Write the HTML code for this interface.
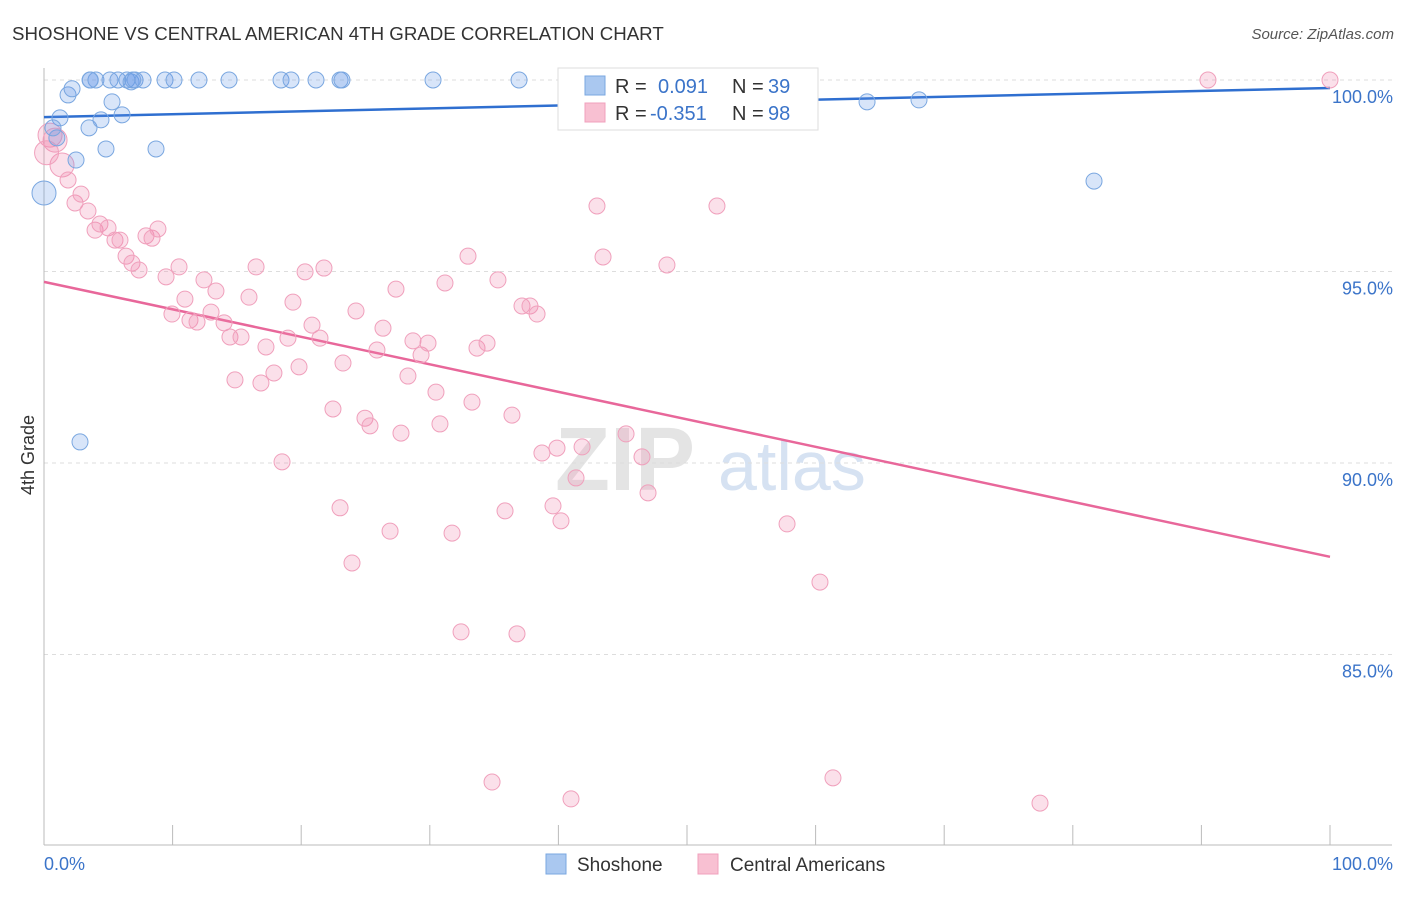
<!DOCTYPE html>
<html><head><meta charset="utf-8">
<style>
body{margin:0;background:#fff;font-family:"Liberation Sans",sans-serif;}
svg text{font-family:"Liberation Sans",sans-serif;}
</style></head>
<body>
<svg id="chart" width="1406" height="892" xmlns="http://www.w3.org/2000/svg">
<text x="12" y="40" font-size="18.7" fill="#333">SHOSHONE VS CENTRAL AMERICAN 4TH GRADE CORRELATION CHART</text>
<text x="1394" y="39" font-size="15" fill="#555" text-anchor="end" font-style="italic">Source: ZipAtlas.com</text>
<g>
<text x="555" y="490" font-size="90" fill="#e4e4e4" font-family="Liberation Serif" font-weight="bold">ZIP</text>
<text x="718" y="490" font-size="70" fill="#d6e2f2">atlas</text>
</g>
<g id="grid"></g>
<g id="axes"></g>
<g id="trends"></g>
<g id="points"></g>
<g>
<rect x="558" y="68" width="260" height="62" fill="#fff" stroke="#ddd"/>
<rect x="585" y="76" width="20" height="19" fill="#aac8f0" stroke="#7aa7e0"/>
<rect x="585" y="103" width="20" height="19" fill="#f8c0d2" stroke="#f0a0bc"/>
<text x="615" y="93" font-size="20" fill="#333">R = </text>
<text x="658" y="93" font-size="20" fill="#3b74c9">0.091</text>
<text x="732" y="93" font-size="20" fill="#333">N = </text>
<text x="768" y="93" font-size="20" fill="#3b74c9">39</text>
<text x="615" y="120" font-size="20" fill="#333">R = </text>
<text x="650" y="120" font-size="20" fill="#3b74c9">-0.351</text>
<text x="732" y="120" font-size="20" fill="#333">N = </text>
<text x="768" y="120" font-size="20" fill="#3b74c9">98</text>
</g>
<g>
<rect x="546" y="854" width="20" height="20" fill="#aac8f0" stroke="#7aa7e0"/>
<text x="577" y="871" font-size="19" fill="#333">Shoshone</text>
<rect x="698" y="854" width="20" height="20" fill="#f8c0d2" stroke="#f0a0bc"/>
<text x="730" y="871" font-size="19" fill="#333">Central Americans</text>
</g>
<text transform="translate(34,455) rotate(-90)" font-size="18" fill="#333" text-anchor="middle">4th Grade</text>
</svg>
<script>
const yTicks=[100,95,90,85];
const yTickLabels=["100.0%","95.0%","90.0%","85.0%"];
const xTickVals=[0,10,20,30,40,50,60,70,80,90,100];
const blueX=[0,1.0,1.24,1.87,2.18,2.49,3.58,4.04,3.5,4.43,4.82,5.13,5.29,5.75,6.07,6.45,6.77,7.08,7.7,8.71,9.41,10.11,12.05,14.39,18.43,19.21,21.15,23.02,23.17,30.25,36.94,42.3,64.0,68.04,81.65,2.8,0.7,3.6,6.9];
const blueY=[97.05,98.49,99.01,99.61,99.77,97.91,100,100,98.75,98.96,98.2,100,99.43,100,99.09,100,99.95,100,100,98.2,100,100,100,100,100,100,100,100,100,100,100,100,99.43,99.48,97.36,90.55,98.75,100,100];
const pinkX=[0.47,0.86,1.4,1.87,2.41,2.88,3.42,3.97,4.35,4.98,5.52,5.91,6.38,6.84,7.39,7.93,8.4,8.86,9.49,9.95,10.5,10.96,11.35,11.9,12.44,12.99,13.37,14.0,14.46,14.85,15.32,15.94,16.49,16.87,17.26,17.88,18.51,18.97,19.36,19.83,20.3,20.84,21.46,21.77,22.47,23.02,23.25,23.95,24.26,24.96,25.35,25.89,26.36,26.91,27.37,27.76,28.3,28.69,29.32,29.86,30.48,30.79,31.18,31.73,32.43,32.97,33.28,33.67,34.45,34.84,35.3,35.85,36.39,36.78,37.17,37.79,38.34,38.72,39.58,39.89,40.2,40.98,41.37,41.84,43.0,43.47,45.26,46.5,46.97,48.44,52.33,57.78,60.34,61.35,77.45,90.51,100,0.2];
const pinkY=[98.56,98.43,97.78,97.39,96.79,97.02,96.58,96.08,96.24,96.14,95.82,95.82,95.4,95.22,95.04,95.93,95.87,96.11,94.86,93.89,95.12,94.28,93.73,93.68,94.78,93.94,94.49,93.66,93.29,92.17,93.29,94.33,95.12,92.09,93.03,92.35,90.03,93.26,94.2,92.51,94.99,93.6,93.26,95.09,91.41,88.83,92.61,87.39,93.97,91.17,90.97,92.95,93.52,88.22,94.54,90.78,92.27,93.19,92.82,93.13,91.85,91.02,94.7,88.17,85.59,95.4,91.59,93.0,93.13,81.67,94.78,88.75,91.25,85.54,94.1,94.1,93.89,90.26,88.88,90.39,88.49,81.23,89.61,90.42,96.71,95.38,90.76,90.16,89.22,95.17,96.71,88.41,86.89,81.78,81.12,100,100,98.1];
const blueTrend=[99.03,99.79];
const pinkTrend=[94.73,87.55];
const NS="http://www.w3.org/2000/svg";
const X0=44,X1=1330,Y100=80,PXPER=38.3;
const xs=v=>X0+(X1-X0)*v/100;
const ys=v=>Y100+(100-v)*PXPER;
function mk(tag,attrs,parent){const e=document.createElementNS(NS,tag);for(const k in attrs)e.setAttribute(k,attrs[k]);parent.appendChild(e);return e;}
const grid=document.getElementById('grid'),axes=document.getElementById('axes');
yTicks.forEach((t,i)=>{
 const l=mk('line',{x1:X0,x2:1392,y1:ys(t),y2:ys(t),stroke:'#ddd','stroke-dasharray':'4,4'},grid);
 
 
 const tx=mk('text',{x:1393,y:ys(t)+23,'font-size':18,fill:'#3b74c9','text-anchor':'end'},axes);
 tx.textContent=yTickLabels[i];
 
 
});
const ax=mk('line',{x1:X0,x2:X0,y1:68,y2:845,stroke:'#bbb'},axes);


const bx=mk('line',{x1:X0,x2:1392,y1:845,y2:845,stroke:'#bbb'},axes);


xTickVals.forEach(v=>{
 const t=mk('line',{x1:xs(v),x2:xs(v),y1:825,y2:845,stroke:'#bbb'},axes);
 
 
});
const xl=mk('text',{x:44,y:870,'font-size':18,fill:'#3b74c9'},axes);xl.textContent='0.0%';


const xr=mk('text',{x:1393,y:870,'font-size':18,fill:'#3b74c9','text-anchor':'end'},axes);xr.textContent='100.0%';


const pts=document.getElementById('points');
pinkX.forEach((x,i)=>{
 const c=mk('circle',{cx:xs(x),cy:ys(pinkY[i]),r:(i<3||i==97)?12:8,fill:'rgba(240,130,170,0.25)',stroke:'#f0a0bc','stroke-width':1},pts);
 
 
});
blueX.forEach((x,i)=>{
 const c=mk('circle',{cx:xs(x),cy:ys(blueY[i]),r:i==0?12:8,fill:'rgba(100,150,230,0.25)',stroke:'#7aa7e0','stroke-width':1},pts);
 
 
});
const tr=document.getElementById('trends');
const bl=mk('line',{x1:xs(0),x2:xs(100),y1:ys(blueTrend[0]),y2:ys(blueTrend[1]),stroke:'#2f6fd0','stroke-width':2.5},tr);


const pl=mk('line',{x1:xs(0),x2:xs(100),y1:ys(pinkTrend[0]),y2:ys(pinkTrend[1]),stroke:'#e8679a','stroke-width':2.5},tr);


</script>
</body></html>
